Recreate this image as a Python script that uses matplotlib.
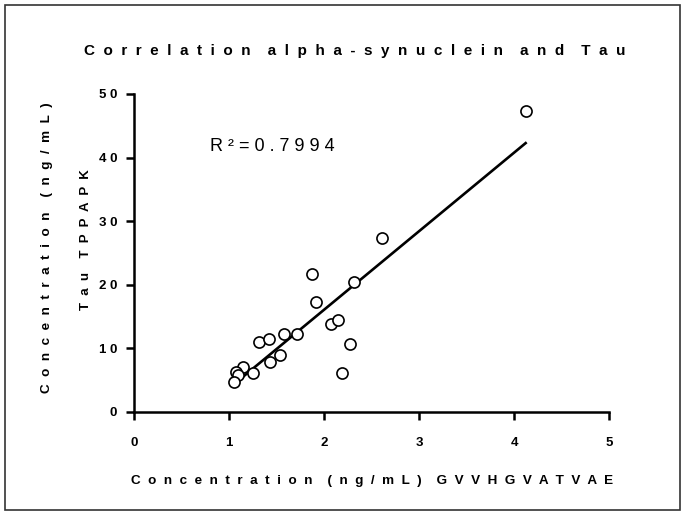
import numpy as np
import matplotlib
matplotlib.use("Agg")
import matplotlib.pyplot as plt
import matplotlib.patches as patches

# alpha-synuclein (GVVHGVATVAE) vs Tau (TPPAPK), ng/mL
asyn = np.array([1.87, 2.31, 1.91, 2.07, 2.15, 2.27, 2.19, 1.31, 1.42, 1.58,
                 1.71, 1.54, 1.43, 1.15, 1.07, 1.09, 1.25, 1.05, 2.61, 4.12])
tau = np.array([21.7, 20.4, 17.3, 13.8, 14.4, 10.6, 6.1, 11.0, 11.5, 12.3,
                12.3, 9.0, 7.8, 7.0, 6.3, 5.7, 6.1, 4.7, 27.4, 47.4])
r_squared = 0.7994

x_ticks = [0, 1, 2, 3, 4, 5]
y_ticks = [0, 10, 20, 30, 40, 50]

plt.rcParams['font.family'] = ['Liberation Sans', 'DejaVu Sans']


def spaced(s, gap="  ", word_gap="    "):
    # wide letter tracking, the old GraphPad look
    return word_gap.join(gap.join(w) for w in s.split(" "))


fig = plt.figure(figsize=(6.84, 5.14), dpi=100)
ax = fig.add_axes([134 / 684, (514 - 411.7) / 514, (609.3 - 134) / 684, (411.7 - 94) / 514])

ax.plot(asyn, tau, 'o', markersize=8, markerfacecolor='white',
        markeredgecolor='black', markeredgewidth=1.2, zorder=3)

# least squares fit across the data range
slope, intercept = np.polyfit(asyn, tau, 1)
xs = np.array([asyn.min(), asyn.max()])
ax.plot(xs, slope * xs + intercept, color='black', linewidth=1.9, zorder=2)

ax.text(0.8, 41.8, spaced("R²=%.4f" % r_squared, " "), fontsize=13, va='center', ha='left')

ax.set_xlim(0, 5)
ax.set_ylim(0, 50)
ax.set_xticks(x_ticks)
ax.set_yticks(y_ticks)
ax.set_xticklabels([spaced(str(t), " ") for t in x_ticks], fontweight='bold', fontsize=9.5)
ax.set_yticklabels([spaced(str(t), " ") for t in y_ticks], fontweight='bold', fontsize=9.5)
ax.tick_params(axis='x', direction='out', length=6, width=1.8, pad=12)
ax.tick_params(axis='y', direction='out', length=6, width=1.8, pad=6)

for side in ['top', 'right']:
    ax.spines[side].set_visible(False)
for side in ['left', 'bottom']:
    ax.spines[side].set_linewidth(1.8)

ax.set_xlabel(spaced("Concentration (ng/mL) GVVHGVATVAE"), fontweight='bold',
              fontsize=9.7, labelpad=19)
fig.text(47 / 684, 1 - 248 / 514, spaced("Concentration (ng/mL)"), rotation=90,
         fontweight='bold', fontsize=9.7, ha='center', va='center')
fig.text(86 / 684, 1 - 240 / 514, spaced("Tau TPPAPK"), rotation=90,
         fontweight='bold', fontsize=9.5, ha='center', va='center')

fig.text(355 / 684, 1 - 51 / 514, spaced("Correlation alpha-synuclein and Tau"),
         fontweight='bold', fontsize=11, ha='center', va='center')

# thin frame around the whole graph sheet
fig.patches.append(patches.Rectangle((5 / 684, 4 / 514), 675 / 684, 505 / 514,
                                     transform=fig.transFigure, fill=False,
                                     edgecolor='#333333', linewidth=1.2))

fig.savefig("out.png", dpi=100)
